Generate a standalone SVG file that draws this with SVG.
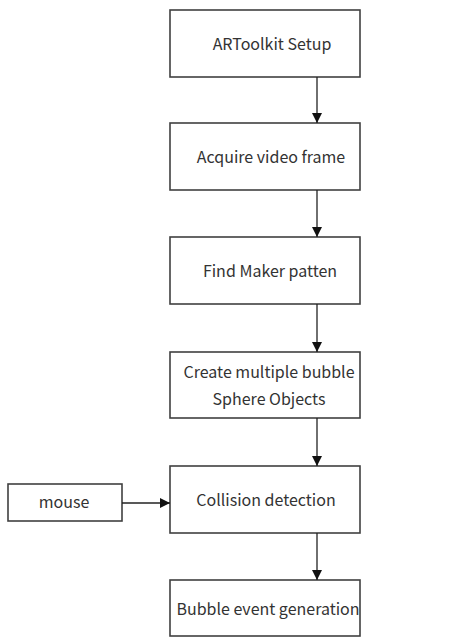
<svg xmlns="http://www.w3.org/2000/svg" width="470" height="643" viewBox="0 0 470 643">
  <defs>
    <marker id="arrow" viewBox="0 0 10 10" refX="10" refY="5" markerWidth="10" markerHeight="10" markerUnits="userSpaceOnUse" orient="auto">
      <path d="M0,0 L10,5 L0,10 Z" fill="#111"/>
    </marker>
    <style>
      .box { fill: #ffffff; stroke: #404040; stroke-width: 1.6; }
      .lbl { font-family: "Noto Sans CJK KR", "Open Sans", sans-serif; font-size: 16px; fill: #333; text-anchor: middle; }
      .edge { stroke: #222; stroke-width: 1.3; fill: none; marker-end: url(#arrow); }
    </style>
  </defs>
  <rect width="470" height="643" fill="#ffffff"/>

  <g id="setup">
    <rect class="box" x="170" y="10" width="190" height="67"/>
    <text class="lbl" x="272" y="50">ARToolkit Setup</text>
  </g>
  <g id="acquire">
    <rect class="box" x="170" y="123" width="190" height="67"/>
    <text class="lbl" x="271" y="163">Acquire video frame</text>
  </g>
  <g id="find">
    <rect class="box" x="170" y="237" width="190" height="67"/>
    <text class="lbl" x="270" y="277">Find Maker patten</text>
  </g>
  <g id="create">
    <rect class="box" x="170" y="352" width="190" height="66"/>
    <text class="lbl" x="269" y="378">Create multiple bubble</text>
    <text class="lbl" x="269" y="405">Sphere Objects</text>
  </g>
  <g id="collision">
    <rect class="box" x="170" y="466" width="190" height="67"/>
    <text class="lbl" x="266" y="506">Collision detection</text>
  </g>
  <g id="event">
    <rect class="box" x="170" y="580" width="190" height="56"/>
    <text class="lbl" x="268" y="615">Bubble event generation</text>
  </g>
  <g id="mouse">
    <rect class="box" x="8" y="484" width="114" height="37"/>
    <text class="lbl" x="64" y="508">mouse</text>
  </g>

  <g id="connectors">
    <line class="edge" x1="317" y1="77" x2="317" y2="123"/>
    <line class="edge" x1="317" y1="190" x2="317" y2="237"/>
    <line class="edge" x1="317" y1="304" x2="317" y2="352"/>
    <line class="edge" x1="317" y1="418" x2="317" y2="466"/>
    <line class="edge" x1="317" y1="533" x2="317" y2="580"/>
    <line class="edge" x1="122" y1="503" x2="170" y2="503"/>
  </g>
</svg>
